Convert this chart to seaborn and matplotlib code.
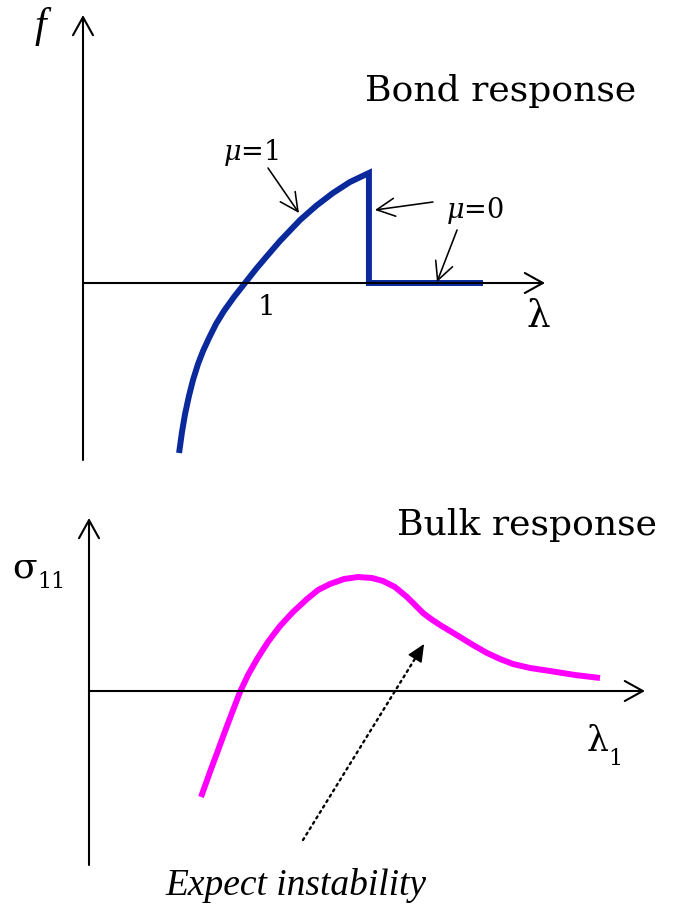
import matplotlib
matplotlib.use("Agg")
import matplotlib.pyplot as plt
import seaborn as sns
import pandas as pd

# ---- data -------------------------------------------------------------
# Bond response: force f against stretch lambda (mu = 1 branch)
bond_lambda = [0.593, 0.611, 0.630, 0.654, 0.679, 0.710, 0.741, 0.778, 0.821,
               0.870, 0.932, 1.000, 1.068, 1.136, 1.216, 1.340, 1.438, 1.543,
               1.648, 1.765]
bond_force = [-1.70, -1.49, -1.31, -1.13, -0.97, -0.81, -0.68, -0.55, -0.41,
              -0.28, -0.14, 0.00, 0.14, 0.27, 0.42, 0.63, 0.77, 0.90,
              1.01, 1.10]
# bond breaks at the last stretch, then carries no force (mu = 0 branch)
broken_lambda_end = 2.469

# Bulk response: stress sigma_11 against stretch lambda_1
bulk_lambda = [0.742, 0.801, 0.848, 0.894, 0.934, 0.967, 1.000, 1.053, 1.113,
               1.185, 1.265, 1.351, 1.444, 1.517, 1.596, 1.689, 1.781, 1.874,
               1.947, 2.026, 2.106, 2.166, 2.212, 2.265, 2.325, 2.391, 2.457,
               2.543, 2.636, 2.722, 2.808, 2.921, 3.053, 3.219, 3.384]
bulk_stress = [-1.06, -0.81, -0.62, -0.43, -0.27, -0.14, -0.01, 0.16, 0.32,
               0.49, 0.65, 0.79, 0.92, 1.01, 1.07, 1.12, 1.14, 1.13,
               1.10, 1.04, 0.94, 0.85, 0.78, 0.72, 0.66, 0.60, 0.54,
               0.46, 0.38, 0.32, 0.27, 0.23, 0.20, 0.16, 0.13]

# axis extents (in data units)
bond_axis_x = (0.0, 2.852)
bond_axis_y = (-1.77, 2.68)
bulk_axis_x = (0.0, 3.682)
bulk_axis_y = (-1.74, 1.73)

# annotation arrows: (tail, head)
mu1_arrow = ((1.142, 1.15), (1.333, 0.70))
mu0_arrow_drop = ((2.160, 0.81), (1.802, 0.73))
mu0_arrow_flat = ((2.309, 0.53), (2.185, 0.01))
instability_arrow = ((1.417, -1.49), (2.219, 0.47))

BLUE = "#0a2a9c"
PINK = "#ff00ff"

# ---- styling ----------------------------------------------------------
sns.set_theme(style="white")
plt.rcParams["font.family"] = ["DejaVu Serif", "DejaVu Sans"]
plt.rcParams["mathtext.fontset"] = "dejavuserif"
plt.rcParams["text.color"] = "black"

W, H = 676, 906
fig = plt.figure(figsize=(W / 100, H / 100), dpi=100)


def fx(px):
    return px / W


def fy(py):
    return 1 - py / H


def make_axes(left, right, top, bottom, x0_px, x_scale, y0_px, y_scale):
    ax = fig.add_axes([fx(left), fy(bottom), (right - left) / W, (bottom - top) / H])
    ax.set_xlim((left - x0_px) / x_scale, (right - x0_px) / x_scale)
    ax.set_ylim((y0_px - bottom) / y_scale, (y0_px - top) / y_scale)
    ax.axis("off")
    return ax


def axis_arrows(ax, xr, yr):
    style = "->,head_length=1.3,head_width=0.72"
    kw = dict(arrowstyle=style, lw=1.5, color="black", shrinkA=0, shrinkB=0,
              mutation_scale=10)
    ax.annotate("", xy=(xr[1], 0), xytext=(xr[0], 0), arrowprops=kw,
                annotation_clip=False)
    ax.annotate("", xy=(0, yr[1]), xytext=(0, yr[0]), arrowprops=kw,
                annotation_clip=False)


def pointer(ax, arrow):
    (tx, ty), (hx, hy) = arrow
    ax.annotate("", xy=(hx, hy), xytext=(tx, ty),
                arrowprops=dict(arrowstyle="->,head_length=1.3,head_width=0.65",
                                lw=1.15, color="black", shrinkA=0, shrinkB=0,
                                mutation_scale=10),
                annotation_clip=False)


def dotted_pointer(ax, arrow):
    (tx, ty), (hx, hy) = arrow
    # dotted shaft
    ax.plot([tx, hx - 0.05 * (hx - tx)], [ty, hy - 0.05 * (hy - ty)],
            color="black", lw=1.7, linestyle=(0, (0.9, 1.8)),
            dash_capstyle="round")
    # solid filled head
    ax.annotate("", xy=(hx, hy),
                xytext=(hx - 0.06 * (hx - tx), hy - 0.06 * (hy - ty)),
                arrowprops=dict(arrowstyle="-|>,head_length=1.1,head_width=0.5",
                                lw=1.0, color="black", shrinkA=0, shrinkB=0,
                                mutation_scale=10),
                annotation_clip=False)


# ---- top panel: bond response -----------------------------------------
ax1 = make_axes(60, 600, 10, 470, 83, 162, 283, 100)
axis_arrows(ax1, bond_axis_x, bond_axis_y)

bond = pd.DataFrame({
    "lambda": bond_lambda + [bond_lambda[-1], broken_lambda_end],
    "f": bond_force + [0.0, 0.0],
})
sns.lineplot(data=bond, x="lambda", y="f", sort=False, estimator=None,
             color=BLUE, lw=4.3, ax=ax1, legend=False,
             solid_joinstyle="miter", solid_capstyle="butt")

pointer(ax1, mu1_arrow)
pointer(ax1, mu0_arrow_drop)
pointer(ax1, mu0_arrow_flat)

fig.text(fx(40), fy(26), "f", family=["Liberation Serif"], style="italic",
         fontsize=30, ha="center", va="center")
fig.text(fx(365), fy(101), "Bond response", fontsize=26, ha="left", va="baseline")
fig.text(fx(251), fy(153), r"$\mu$=1", fontsize=19.5, ha="center", va="center")
fig.text(fx(475), fy(211), r"$\mu$=0", fontsize=19.5, ha="center", va="center")
fig.text(fx(266), fy(307), "1", fontsize=20, ha="center", va="center")
fig.text(fx(538), fy(317), "λ", fontsize=27, ha="center", va="center")

# ---- bottom panel: bulk response --------------------------------------
ax2 = make_axes(60, 660, 505, 875, 89, 151, 691, 100)
axis_arrows(ax2, bulk_axis_x, bulk_axis_y)

bulk = pd.DataFrame({"lambda1": bulk_lambda, "sigma11": bulk_stress})
sns.lineplot(data=bulk, x="lambda1", y="sigma11", sort=False, estimator=None,
             color=PINK, lw=4.3, ax=ax2, legend=False,
             solid_capstyle="butt", solid_joinstyle="round")

dotted_pointer(ax2, instability_arrow)

fig.text(fx(397), fy(535), "Bulk response", fontsize=26, ha="left", va="baseline")
fig.text(fx(12), fy(578), "σ", fontsize=26, ha="left", va="baseline")
fig.text(fx(37), fy(588), "11", fontsize=16, ha="left", va="baseline")
fig.text(fx(587), fy(751), "λ", fontsize=25, ha="left", va="baseline")
fig.text(fx(608), fy(765), "1", fontsize=16, ha="left", va="baseline")
fig.text(fx(165), fy(895), "Expect instability", family=["Liberation Serif"],
         style="italic", fontsize=27, ha="left", va="baseline")

fig.savefig("out.png", dpi=100, facecolor="white")
